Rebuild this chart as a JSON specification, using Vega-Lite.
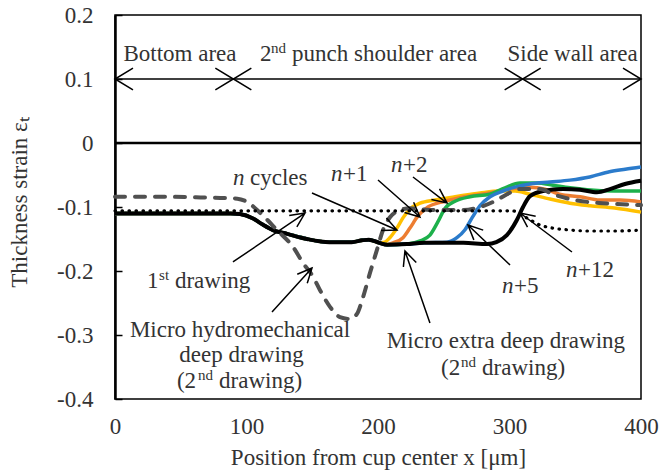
{
"$schema": "https://vega.github.io/schema/vega-lite/v6.json",
"width": 526, "height": 384,
"autosize": {"type": "none"},
"padding": {"left": 115, "top": 15, "right": 20, "bottom": 74},
"background": "white",
"config": {"view": {"stroke": "black", "strokeWidth": 1.5}, "font": "Liberation Serif"},
"datasets": {
"curves": [
{"s":"n","x":0,"y":-0.11},{"s":"n","x":60,"y":-0.11},{"s":"n","x":88,"y":-0.11},{"s":"n","x":95,"y":-0.111},{"s":"n","x":105,"y":-0.118},{"s":"n","x":112,"y":-0.127},{"s":"n","x":120,"y":-0.136},{"s":"n","x":131,"y":-0.142},{"s":"n","x":146,"y":-0.15},{"s":"n","x":163,"y":-0.155},{"s":"n","x":180,"y":-0.155},{"s":"n","x":188,"y":-0.152},{"s":"n","x":193,"y":-0.151},{"s":"n","x":201,"y":-0.156},
{"s":"n","x":205,"y":-0.155},{"s":"n","x":209,"y":-0.148},{"s":"n","x":214.4,"y":-0.133},{"s":"n","x":219,"y":-0.117},{"s":"n","x":224.3,"y":-0.103},{"s":"n","x":232,"y":-0.094},{"s":"n","x":243.4,"y":-0.089},{"s":"n","x":258.6,"y":-0.084},{"s":"n","x":277.6,"y":-0.078},{"s":"n","x":292.8,"y":-0.075},{"s":"n","x":304.2,"y":-0.075},{"s":"n","x":315.6,"y":-0.08},{"s":"n","x":330.8,"y":-0.0875},{"s":"n","x":346,"y":-0.094},{"s":"n","x":361.2,"y":-0.098},{"s":"n","x":380,"y":-0.1016},{"s":"n","x":400,"y":-0.108},
{"s":"n+1","x":0,"y":-0.11},{"s":"n+1","x":60,"y":-0.11},{"s":"n+1","x":88,"y":-0.11},{"s":"n+1","x":95,"y":-0.111},{"s":"n+1","x":105,"y":-0.118},{"s":"n+1","x":112,"y":-0.127},{"s":"n+1","x":120,"y":-0.136},{"s":"n+1","x":131,"y":-0.142},{"s":"n+1","x":146,"y":-0.15},{"s":"n+1","x":163,"y":-0.155},{"s":"n+1","x":180,"y":-0.155},{"s":"n+1","x":188,"y":-0.152},{"s":"n+1","x":193,"y":-0.151},{"s":"n+1","x":201,"y":-0.156},{"s":"n+1","x":207,"y":-0.159},
{"s":"n+1","x":211.4,"y":-0.156},{"s":"n+1","x":219,"y":-0.148},{"s":"n+1","x":224.3,"y":-0.133},{"s":"n+1","x":230.4,"y":-0.114},{"s":"n+1","x":238,"y":-0.1},{"s":"n+1","x":251,"y":-0.091},{"s":"n+1","x":266,"y":-0.084},{"s":"n+1","x":285,"y":-0.078},{"s":"n+1","x":300,"y":-0.072},{"s":"n+1","x":315.6,"y":-0.069},{"s":"n+1","x":327,"y":-0.072},{"s":"n+1","x":338,"y":-0.08},{"s":"n+1","x":353.6,"y":-0.084},{"s":"n+1","x":368.8,"y":-0.089},{"s":"n+1","x":384,"y":-0.089},{"s":"n+1","x":400,"y":-0.092},
{"s":"n+2","x":0,"y":-0.11},{"s":"n+2","x":60,"y":-0.11},{"s":"n+2","x":88,"y":-0.11},{"s":"n+2","x":95,"y":-0.111},{"s":"n+2","x":105,"y":-0.118},{"s":"n+2","x":112,"y":-0.127},{"s":"n+2","x":120,"y":-0.136},{"s":"n+2","x":131,"y":-0.142},{"s":"n+2","x":146,"y":-0.15},{"s":"n+2","x":163,"y":-0.155},{"s":"n+2","x":180,"y":-0.155},{"s":"n+2","x":188,"y":-0.152},{"s":"n+2","x":193,"y":-0.151},{"s":"n+2","x":201,"y":-0.156},{"s":"n+2","x":207,"y":-0.159},{"s":"n+2","x":222,"y":-0.158},
{"s":"n+2","x":232,"y":-0.153},{"s":"n+2","x":239.5,"y":-0.144},{"s":"n+2","x":245.6,"y":-0.123},{"s":"n+2","x":251,"y":-0.102},{"s":"n+2","x":258.6,"y":-0.091},{"s":"n+2","x":270,"y":-0.084},{"s":"n+2","x":285,"y":-0.08},{"s":"n+2","x":296.6,"y":-0.07},{"s":"n+2","x":308,"y":-0.0625},{"s":"n+2","x":321,"y":-0.0625},{"s":"n+2","x":333,"y":-0.066},{"s":"n+2","x":346,"y":-0.07},{"s":"n+2","x":359,"y":-0.073},{"s":"n+2","x":380,"y":-0.075},{"s":"n+2","x":400,"y":-0.075},
{"s":"n+5","x":0,"y":-0.11},{"s":"n+5","x":60,"y":-0.11},{"s":"n+5","x":88,"y":-0.11},{"s":"n+5","x":95,"y":-0.111},{"s":"n+5","x":105,"y":-0.118},{"s":"n+5","x":112,"y":-0.127},{"s":"n+5","x":120,"y":-0.136},{"s":"n+5","x":131,"y":-0.142},{"s":"n+5","x":146,"y":-0.15},{"s":"n+5","x":163,"y":-0.155},{"s":"n+5","x":180,"y":-0.155},{"s":"n+5","x":188,"y":-0.152},{"s":"n+5","x":193,"y":-0.151},{"s":"n+5","x":201,"y":-0.156},{"s":"n+5","x":207,"y":-0.159},{"s":"n+5","x":222,"y":-0.158},{"s":"n+5","x":235,"y":-0.156},
{"s":"n+5","x":252.5,"y":-0.155},{"s":"n+5","x":260,"y":-0.148},{"s":"n+5","x":266,"y":-0.136},{"s":"n+5","x":271.5,"y":-0.117},{"s":"n+5","x":277.6,"y":-0.098},{"s":"n+5","x":285.2,"y":-0.084},{"s":"n+5","x":295,"y":-0.075},{"s":"n+5","x":304,"y":-0.069},{"s":"n+5","x":315.6,"y":-0.064},{"s":"n+5","x":330.8,"y":-0.061},{"s":"n+5","x":346,"y":-0.058},{"s":"n+5","x":361,"y":-0.053},{"s":"n+5","x":376,"y":-0.045},{"s":"n+5","x":388,"y":-0.041},{"s":"n+5","x":400,"y":-0.0375},
{"s":"n+12","x":0,"y":-0.11},{"s":"n+12","x":60,"y":-0.11},{"s":"n+12","x":88,"y":-0.11},{"s":"n+12","x":95,"y":-0.111},{"s":"n+12","x":105,"y":-0.118},{"s":"n+12","x":112,"y":-0.127},{"s":"n+12","x":120,"y":-0.136},{"s":"n+12","x":131,"y":-0.142},{"s":"n+12","x":146,"y":-0.15},{"s":"n+12","x":163,"y":-0.155},{"s":"n+12","x":180,"y":-0.155},{"s":"n+12","x":188,"y":-0.152},{"s":"n+12","x":193,"y":-0.151},{"s":"n+12","x":201,"y":-0.156},{"s":"n+12","x":207,"y":-0.159},{"s":"n+12","x":222,"y":-0.158},{"s":"n+12","x":235,"y":-0.156},{"s":"n+12","x":265,"y":-0.156},{"s":"n+12","x":283,"y":-0.158},{"s":"n+12","x":290,"y":-0.155},
{"s":"n+12","x":298,"y":-0.144},{"s":"n+12","x":305.7,"y":-0.12},{"s":"n+12","x":310.3,"y":-0.1},{"s":"n+12","x":315.6,"y":-0.083},{"s":"n+12","x":325.5,"y":-0.075},{"s":"n+12","x":340.7,"y":-0.072},{"s":"n+12","x":353.6,"y":-0.073},{"s":"n+12","x":366.5,"y":-0.077},{"s":"n+12","x":376.4,"y":-0.072},{"s":"n+12","x":387.8,"y":-0.064},{"s":"n+12","x":400,"y":-0.059},
{"s":"hydro","x":0,"y":-0.084},{"s":"hydro","x":35,"y":-0.084},{"s":"hydro","x":65,"y":-0.085},{"s":"hydro","x":84,"y":-0.086},{"s":"hydro","x":93,"y":-0.087},{"s":"hydro","x":100.4,"y":-0.092},{"s":"hydro","x":110.3,"y":-0.109},{"s":"hydro","x":123.2,"y":-0.136},{"s":"hydro","x":135.4,"y":-0.1625},{"s":"hydro","x":143,"y":-0.1875},{"s":"hydro","x":150.6,"y":-0.209},{"s":"hydro","x":155.9,"y":-0.23},{"s":"hydro","x":163.5,"y":-0.256},{"s":"hydro","x":171.1,"y":-0.272},{"s":"hydro","x":178.7,"y":-0.275},{"s":"hydro","x":184,"y":-0.267},{"s":"hydro","x":188.6,"y":-0.241},{"s":"hydro","x":193.9,"y":-0.203},{"s":"hydro","x":199.2,"y":-0.167},{"s":"hydro","x":203.8,"y":-0.136},{"s":"hydro","x":209.1,"y":-0.116},{"s":"hydro","x":216.7,"y":-0.105},{"s":"hydro","x":224.3,"y":-0.102},{"s":"hydro","x":239.5,"y":-0.1047},{"s":"hydro","x":264.6,"y":-0.1047},{"s":"hydro","x":277.6,"y":-0.1},{"s":"hydro","x":290.5,"y":-0.089},{"s":"hydro","x":298.1,"y":-0.08},{"s":"hydro","x":308,"y":-0.072},{"s":"hydro","x":323.2,"y":-0.072},{"s":"hydro","x":333,"y":-0.08},{"s":"hydro","x":346,"y":-0.0875},{"s":"hydro","x":359,"y":-0.092},{"s":"hydro","x":371,"y":-0.094},{"s":"hydro","x":400,"y":-0.097},
{"s":"first","x":0,"y":-0.106},{"s":"first","x":150,"y":-0.106},{"s":"first","x":302,"y":-0.106},{"s":"first","x":313,"y":-0.117},{"s":"first","x":323,"y":-0.128},{"s":"first","x":333,"y":-0.133},{"s":"first","x":346,"y":-0.136},{"s":"first","x":361,"y":-0.1375},{"s":"first","x":380,"y":-0.1375},{"s":"first","x":400,"y":-0.136}
],
"zero": [{"x": 0, "x2": 400, "y": 0}],
"region": [{"x": 0, "x2": 400, "y": 0.1}],
"headsL": [{"x": 0, "y": 0.1}, {"x": 90, "y": 0.1}, {"x": 310, "y": 0.1}],
"headsR": [{"x": 90, "y": 0.1}, {"x": 310, "y": 0.1}, {"x": 400, "y": 0.1}],
"leaders": [
{"id":1,"o":0,"x":149.8,"y":-0.0781},{"id":1,"o":1,"x":214.4,"y":-0.1359},{"id":1,"o":2,"x":206.4,"y":-0.1172},{"id":1,"o":3,"x":214.4,"y":-0.1359},{"id":1,"o":4,"x":202.3,"y":-0.1366},
{"id":2,"o":0,"x":200.0,"y":-0.0578},{"id":2,"o":1,"x":231.9,"y":-0.1156},{"id":2,"o":2,"x":227.1,"y":-0.0927},{"id":2,"o":3,"x":231.9,"y":-0.1156},{"id":2,"o":4,"x":220.2,"y":-0.1086},
{"id":3,"o":0,"x":226.6,"y":-0.0531},{"id":3,"o":1,"x":252.5,"y":-0.0938},{"id":3,"o":2,"x":246.8,"y":-0.0716},{"id":3,"o":3,"x":252.5,"y":-0.0938},{"id":3,"o":4,"x":240.6,"y":-0.0884},
{"id":4,"o":0,"x":89.7,"y":-0.1859},{"id":4,"o":1,"x":144.5,"y":-0.1094},{"id":4,"o":2,"x":132.5,"y":-0.1134},{"id":4,"o":3,"x":144.5,"y":-0.1094},{"id":4,"o":4,"x":138.3,"y":-0.1309},
{"id":5,"o":0,"x":119.4,"y":-0.2641},{"id":5,"o":1,"x":149.8,"y":-0.1953},{"id":5,"o":2,"x":138.6,"y":-0.205},{"id":5,"o":3,"x":149.8,"y":-0.1953},{"id":5,"o":4,"x":146.2,"y":-0.2192},
{"id":6,"o":0,"x":239.5,"y":-0.2813},{"id":6,"o":1,"x":220.5,"y":-0.1688},{"id":6,"o":2,"x":219.3,"y":-0.1936},{"id":6,"o":3,"x":220.5,"y":-0.1688},{"id":6,"o":4,"x":229.1,"y":-0.1867},
{"id":7,"o":0,"x":300.4,"y":-0.1906},{"id":7,"o":1,"x":268.4,"y":-0.1281},{"id":7,"o":2,"x":272.9,"y":-0.1514},{"id":7,"o":3,"x":268.4,"y":-0.1281},{"id":7,"o":4,"x":280.0,"y":-0.1361},
{"id":8,"o":0,"x":347.5,"y":-0.1703},{"id":8,"o":1,"x":308.0,"y":-0.1094},{"id":8,"o":2,"x":313.7,"y":-0.1314},{"id":8,"o":3,"x":308.0,"y":-0.1094},{"id":8,"o":4,"x":319.9,"y":-0.1145}
],
"txtL": [
{"t":"2","x":110.3,"y":0.1281},{"t":"punch shoulder area","x":134.6,"y":0.1281},
{"t":"cycles","x":102.7,"y":-0.0656},{"t":"+1","x":173.4,"y":-0.0594},{"t":"+2","x":219.0,"y":-0.0453},
{"t":"+5","x":303.4,"y":-0.2344},{"t":"+12","x":352.1,"y":-0.2094},
{"t":"1","x":24.3,"y":-0.2266},{"t":"drawing","x":45.6,"y":-0.2266},
{"t":"(2","x":47.1,"y":-0.3828},{"t":"drawing)","x":79.1,"y":-0.3828},
{"t":"(2","x":247.9,"y":-0.3625},{"t":"drawing)","x":279.1,"y":-0.3625}
],
"txtC": [
{"t":"Bottom area","x":49.4,"y":0.1281},{"t":"Side wall area","x":348,"y":0.1281},
{"t":"Micro hydromechanical","x":95.1,"y":-0.3031},{"t":"deep drawing","x":96.2,"y":-0.3422},
{"t":"Micro extra deep drawing","x":297.3,"y":-0.3203}
],
"txtI": [
{"t":"n","x":89.7,"y":-0.0656},{"t":"n","x":164.3,"y":-0.0594},{"t":"n","x":209.9,"y":-0.0453},{"t":"n","x":294.3,"y":-0.2344},{"t":"n","x":343.0,"y":-0.2094}
],
"txtS": [
{"t":"nd","x":118.6,"y":0.1281},{"t":"st","x":33.5,"y":-0.2266},{"t":"nd","x":63.1,"y":-0.3828},{"t":"nd","x":263.1,"y":-0.3625}
]
},
"encoding": {
"x": {"field": "x", "type": "quantitative", "scale": {"domain": [0, 400], "nice": false, "zero": false},
 "axis": {"title": "Position from cup center x [μm]", "values": [0, 100, 200, 300, 400], "ticks": false, "domain": false, "grid": false, "labelFlush": false, "labelOverlap": false,
  "labelFont": "Liberation Serif", "labelFontSize": 23, "labelColor": "#333333", "labelPadding": 16,
  "titleFont": "Liberation Serif", "titleFontSize": 23, "titleFontWeight": "normal", "titleColor": "#333333", "titlePadding": 8}},
"y": {"field": "y", "type": "quantitative", "scale": {"domain": [-0.4, 0.2], "nice": false, "zero": false},
 "axis": {"title": "Thickness strain εₜ", "values": [-0.4, -0.3, -0.2, -0.1, 0, 0.1, 0.2], "labelExpr": "replace(format(datum.value, '.1~f'), '−', '-')",
  "tickSize": -7, "tickColor": "black", "tickWidth": 1.5, "domainColor": "black", "domainWidth": 2.5, "grid": false, "labelFlush": false, "labelOverlap": false,
  "labelFont": "Liberation Serif", "labelFontSize": 23, "labelColor": "#333333", "labelPadding": 29,
  "titleFont": "Liberation Serif", "titleFontSize": 23, "titleFontWeight": "normal", "titleColor": "#333333", "titleX": -84, "titleY": 187, "titleAngle": -90, "titleAlign": "center", "titleBaseline": "bottom"}}
},
"layer": [
{"data": {"name": "zero"}, "mark": {"type": "rule", "stroke": "black", "strokeWidth": 2.5}, "encoding": {"x2": {"field": "x2"}}},
{"data": {"name": "region"}, "mark": {"type": "rule", "stroke": "black", "strokeWidth": 1.5}, "encoding": {"x2": {"field": "x2"}}},
{"data": {"name": "headsL"}, "mark": {"type": "point", "shape": "M1,-0.6L0,0L1,0.6", "filled": false, "size": 1296, "stroke": "black", "strokeWidth": 1.5, "opacity": 1}},
{"data": {"name": "headsR"}, "mark": {"type": "point", "shape": "M-1,-0.6L0,0L-1,0.6", "filled": false, "size": 1296, "stroke": "black", "strokeWidth": 1.5, "opacity": 1}},
{"data": {"name": "curves"}, "transform": [{"filter": {"field": "s", "oneOf": ["n", "n+1", "n+2", "n+5"]}}],
 "mark": {"type": "line", "strokeWidth": 3.5, "interpolate": "monotone"},
 "encoding": {"color": {"field": "s", "type": "nominal", "scale": {"domain": ["n", "n+1", "n+2", "n+5"], "range": ["#FFC000", "#ED7D31", "#1DB04B", "#2B7BCB"]}, "legend": null}}},
{"data": {"name": "curves"}, "transform": [{"filter": {"field": "s", "equal": "n+12"}}],
 "mark": {"type": "line", "strokeWidth": 4, "color": "black", "interpolate": "monotone"}},
{"data": {"name": "curves"}, "transform": [{"filter": {"field": "s", "equal": "hydro"}}],
 "mark": {"type": "line", "strokeWidth": 4, "color": "#505050", "strokeDash": [10, 10], "strokeCap": "round", "interpolate": "monotone"}},
{"data": {"name": "curves"}, "transform": [{"filter": {"field": "s", "equal": "first"}}],
 "mark": {"type": "line", "strokeWidth": 3.2, "color": "black", "strokeDash": [0.5, 6.5], "strokeCap": "round", "interpolate": "monotone"}},
{"data": {"name": "leaders"}, "mark": {"type": "line", "strokeWidth": 1.5, "color": "black"},
 "encoding": {"detail": {"field": "id"}, "order": {"field": "o", "type": "quantitative"}}},
{"data": {"name": "txtL"}, "mark": {"type": "text", "align": "left", "baseline": "alphabetic", "font": "Liberation Serif", "fontSize": 23, "fill": "#333333"}, "encoding": {"text": {"field": "t"}}},
{"data": {"name": "txtC"}, "mark": {"type": "text", "align": "center", "baseline": "alphabetic", "font": "Liberation Serif", "fontSize": 23, "fill": "#333333"}, "encoding": {"text": {"field": "t"}}},
{"data": {"name": "txtI"}, "mark": {"type": "text", "align": "left", "baseline": "alphabetic", "font": "Liberation Serif", "fontStyle": "italic", "fontSize": 23, "fill": "#333333"}, "encoding": {"text": {"field": "t"}}},
{"data": {"name": "txtS"}, "mark": {"type": "text", "align": "left", "baseline": "alphabetic", "font": "Liberation Serif", "fontSize": 15, "dy": -8, "fill": "#333333"}, "encoding": {"text": {"field": "t"}}}
]
}
